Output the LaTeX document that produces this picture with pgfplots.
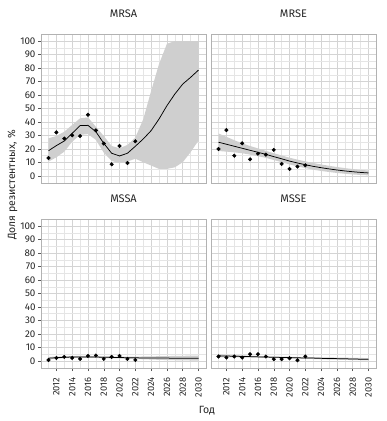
\documentclass[border=0pt]{standalone}
\usepackage{fontspec}
\setmainfont{Fira Sans}
\usepackage{pgfplots}
\pgfplotsset{compat=1.18}
\usepackage{pgfplotstable}

% fitted line
\pgfplotstableread{
year fit
2011 18.7
2012 22.5
2013 25.9
2014 31.6
2015 37.3
2016 37.5
2017 32.8
2018 24.2
2019 16.8
2020 14.8
2021 16.8
2022 22.0
2023 27.4
2024 33.6
2025 42.2
2026 52.1
2027 60.7
2028 68.1
2029 73.1
2030 78.5
}\mrsafit
% band: upper bound forward, lower bound backward
\pgfplotstableread{
year y
2011 27.9
2012 29.6
2013 32.8
2014 37.8
2015 42.7
2016 43.4
2017 36.5
2018 29.6
2019 22.2
2020 20.5
2021 23.0
2022 28.5
2023 42.0
2024 63.0
2025 83.0
2026 98.0
2027 100
2028 100
2029 100
2030 100
2030 26.2
2029 17.6
2028 10.1
2027 6.4
2026 5.2
2025 5.2
2024 7.7
2023 10.1
2022 12.8
2021 10.6
2020 9.4
2019 11.1
2018 17.3
2017 26.7
2016 31.0
2015 30.4
2014 25.4
2013 18.0
2012 13.8
2011 10.6
}\mrsaband
\pgfplotstableread{
year val
2011 13.3
2012 32.3
2013 27.7
2014 30.1
2015 29.6
2016 45.4
2017 33.8
2018 24.0
2019 8.6
2020 22.2
2021 9.6
2022 25.7
}\mrsapts

\pgfplotstableread{
year fit
2011 25.0
2012 23.5
2013 22.0
2014 20.5
2015 19.0
2016 17.5
2017 16.0
2018 14.3
2019 12.7
2020 11.0
2021 9.6
2022 8.3
2023 7.1
2024 6.1
2025 5.2
2026 4.4
2027 3.7
2028 3.1
2029 2.6
2030 2.2
}\mrsefit
\pgfplotstableread{
year y
2011 31.5
2012 29.0
2013 26.5
2014 24.2
2015 22.2
2016 20.4
2017 18.6
2018 16.8
2019 15.2
2020 13.5
2021 12.1
2022 10.8
2023 9.6
2024 8.5
2025 7.5
2026 6.6
2027 5.8
2028 5.1
2029 4.5
2030 4.0
2030 0.4
2029 0.7
2028 1.1
2027 1.6
2026 2.2
2025 2.9
2024 3.7
2023 4.6
2022 5.8
2021 7.1
2020 8.5
2019 10.2
2018 11.8
2017 13.4
2016 14.6
2015 15.8
2014 16.8
2013 17.5
2012 18.0
2011 18.5
}\mrseband
\pgfplotstableread{
year val
2011 20.0
2012 34.0
2013 15.0
2014 24.2
2015 12.3
2016 16.5
2017 15.8
2018 19.3
2019 8.9
2020 5.2
2021 6.9
2022 7.9
}\mrsepts

\pgfplotstableread{
year fit
2011 2.0
2012 2.4
2013 2.7
2014 2.9
2015 3.0
2016 3.0
2017 2.9
2018 2.7
2019 2.6
2020 2.5
2021 2.4
2022 2.3
2023 2.2
2024 2.2
2025 2.1
2026 2.1
2027 2.0
2028 2.0
2029 1.9
2030 1.9
}\mssafit
\pgfplotstableread{
year y
2011 3.0
2012 3.2
2013 3.4
2014 3.6
2015 3.7
2016 3.7
2017 3.6
2018 3.4
2019 3.3
2020 3.2
2021 3.2
2022 3.2
2023 3.3
2024 3.4
2025 3.5
2026 3.6
2027 3.7
2028 3.8
2029 3.9
2030 4.0
2030 0.2
2029 0.3
2028 0.4
2027 0.5
2026 0.6
2025 0.8
2024 1.0
2023 1.2
2022 1.4
2021 1.6
2020 1.8
2019 1.9
2018 2.0
2017 2.2
2016 2.3
2015 2.3
2014 2.2
2013 2.0
2012 1.6
2011 1.0
}\mssaband
\pgfplotstableread{
year val
2011 0.7
2012 2.2
2013 3.0
2014 2.2
2015 1.5
2016 3.7
2017 4.0
2018 1.5
2019 3.0
2020 3.7
2021 1.5
2022 0.7
}\mssapts

\pgfplotstableread{
year fit
2011 3.8
2012 3.6
2013 3.5
2014 3.3
2015 3.2
2016 3.0
2017 2.9
2018 2.7
2019 2.6
2020 2.5
2021 2.3
2022 2.2
2023 2.1
2024 1.9
2025 1.8
2026 1.7
2027 1.6
2028 1.4
2029 1.3
2030 1.2
}\mssefit
\pgfplotstableread{
year y
2011 5.0
2012 4.6
2013 4.4
2014 4.1
2015 3.9
2016 3.6
2017 3.5
2018 3.3
2019 3.2
2020 3.1
2021 2.9
2022 2.8
2023 2.8
2024 2.7
2025 2.6
2026 2.5
2027 2.4
2028 2.3
2029 2.2
2030 2.1
2030 0.3
2029 0.5
2028 0.6
2027 0.8
2026 0.9
2025 1.0
2024 1.2
2023 1.4
2022 1.6
2021 1.7
2020 1.9
2019 2.0
2018 2.1
2017 2.3
2016 2.4
2015 2.5
2014 2.5
2013 2.6
2012 2.6
2011 2.6
}\msseband
\pgfplotstableread{
year val
2011 3.3
2012 2.5
2013 3.3
2014 2.5
2015 5.0
2016 5.0
2017 3.3
2018 1.3
2019 1.3
2020 2.0
2021 0.5
2022 3.3
}\mssepts

\pgfplotsset{
  panel/.style={
    scale only axis,
    width=165pt, height=149pt,
    anchor=south west,
    xmin=2010.05, xmax=2030.95,
    ymin=-5.25, ymax=105.25,
    xtick={2012,2014,...,2030},
    minor xtick={2011,2013,...,2029},
    ytick={0,10,...,100},
    minor ytick={5,15,...,95},
    grid=both,
    major grid style={gray!34, line width=0.5pt},
    minor grid style={gray!20, line width=0.5pt},
    axis line style={gray!60, line width=0.9pt},
    tick style={gray!70!black, line width=0.5pt},
    tick align=outside,
    major tick length=3pt,
    minor tick length=0pt,
    xticklabels={},
    yticklabels={},
    xtick pos=bottom,
    ytick pos=left,
    /pgf/number format/assume math mode=true,
    /pgf/number format/1000 sep={},
    tick label style={font=\fontsize{9.8}{11}\selectfont, text=black!85},
    title style={at={(0.5,1)}, anchor=base, yshift=10pt, font=\fontsize{11}{13}\selectfont, text=black!85},
  },
  leftp/.style={yticklabels={0,10,20,30,40,50,60,70,80,90,100},
    yticklabel style={xshift=1pt}},
  rightp/.style={ytick style={draw=none}},
  topp/.style={xtick style={draw=none}},
  bottomp/.style={xticklabels={2012,2014,2016,2018,2020,2022,2024,2026,2028,2030},
    xticklabel shift=3pt,
    xticklabel style={rotate=90, anchor=east, font=\fontsize{9.3}{10}\selectfont}},
  band/.style={fill=gray!38, draw=none},
  fitline/.style={black, line width=0.75pt, no marks},
  pts/.style={only marks, mark=*, mark size=1.8pt, black},
}

\begin{document}
\begin{tikzpicture}
\useasboundingbox (0,0) rectangle (387pt,421pt);

\begin{axis}[panel, leftp, topp, at={(41pt,238pt)}, title={MRSA}]
\addplot[band] table[x=year, y=y] {\mrsaband} -- cycle;
\addplot[fitline] table[x=year, y=fit] {\mrsafit};
\addplot[pts] table[x=year, y=val] {\mrsapts};
\end{axis}

\begin{axis}[panel, rightp, topp, at={(211pt,238pt)}, title={MRSE}]
\addplot[band] table[x=year, y=y] {\mrseband} -- cycle;
\addplot[fitline] table[x=year, y=fit] {\mrsefit};
\addplot[pts] table[x=year, y=val] {\mrsepts};
\end{axis}

\begin{axis}[panel, leftp, bottomp, at={(41pt,53pt)}, title={MSSA}]
\addplot[band] table[x=year, y=y] {\mssaband} -- cycle;
\addplot[fitline] table[x=year, y=fit] {\mssafit};
\addplot[pts] table[x=year, y=val] {\mssapts};
\end{axis}

\begin{axis}[panel, rightp, bottomp, at={(211pt,53pt)}, title={MSSE}]
\addplot[band] table[x=year, y=y] {\msseband} -- cycle;
\addplot[fitline] table[x=year, y=fit] {\mssefit};
\addplot[pts] table[x=year, y=val] {\mssepts};
\end{axis}

\node[rotate=90, font=\fontsize{10.5}{12}\selectfont, text=black!85] at (12.5pt,236pt) {Доля резистентных, \%};
\node[font=\fontsize{10.5}{12}\selectfont, text=black!85] at (207pt,10pt) {Год};
\end{tikzpicture}
\end{document}
